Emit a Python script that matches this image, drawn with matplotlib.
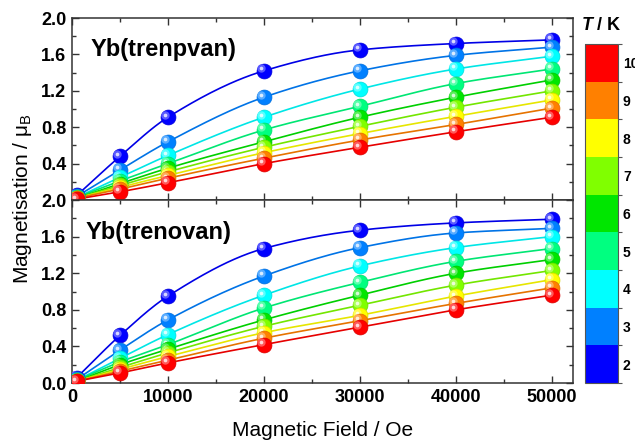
import numpy as np
import matplotlib
matplotlib.use("Agg")
import matplotlib.pyplot as plt
import matplotlib.transforms as mtransforms
from matplotlib.colors import ListedColormap, BoundaryNorm, to_rgb
from matplotlib.cm import ScalarMappable
from matplotlib.ticker import MultipleLocator, FixedLocator

plt.rcParams['font.family'] = ['Liberation Sans', 'DejaVu Sans']
plt.rcParams['mathtext.fontset'] = 'custom'
plt.rcParams['mathtext.rm'] = 'Liberation Sans'
plt.rcParams['mathtext.it'] = 'Liberation Sans:italic'
plt.rcParams['mathtext.bf'] = 'Liberation Sans:bold'
plt.rcParams['mathtext.bfit'] = 'Liberation Sans:italic:bold'

# magnetic field (Oe)
field = [500, 5000, 10000, 20000, 30000, 40000, 50000]
temps = [2, 3, 4, 5, 6, 7, 8, 9, 10]
temp_colors = ['#0000ff', '#0080ff', '#00ffff', '#00ff80', '#00e600',
               '#80ff00', '#ffff00', '#ff8000', '#ff0000']

# magnetisation (muB), one row per temperature
m_trenpvan = [
    [0.05, 0.48, 0.91, 1.42, 1.65, 1.72, 1.76],
    [0.04, 0.33, 0.64, 1.13, 1.42, 1.59, 1.68],
    [0.03, 0.25, 0.49, 0.91, 1.22, 1.44, 1.58],
    [0.03, 0.21, 0.40, 0.77, 1.03, 1.28, 1.44],
    [0.02, 0.18, 0.35, 0.64, 0.91, 1.13, 1.32],
    [0.02, 0.16, 0.31, 0.58, 0.81, 1.02, 1.20],
    [0.02, 0.14, 0.27, 0.52, 0.73, 0.92, 1.10],
    [0.02, 0.12, 0.24, 0.46, 0.66, 0.83, 1.01],
    [0.01, 0.09, 0.19, 0.40, 0.58, 0.75, 0.91],
]
m_trenovan = [
    [0.06, 0.52, 0.95, 1.47, 1.67, 1.75, 1.79],
    [0.04, 0.36, 0.69, 1.17, 1.48, 1.64, 1.69],
    [0.03, 0.27, 0.53, 0.96, 1.28, 1.48, 1.60],
    [0.03, 0.23, 0.42, 0.82, 1.10, 1.33, 1.47],
    [0.02, 0.20, 0.37, 0.69, 0.96, 1.20, 1.35],
    [0.02, 0.17, 0.33, 0.62, 0.85, 1.07, 1.23],
    [0.02, 0.15, 0.29, 0.55, 0.74, 0.95, 1.13],
    [0.02, 0.13, 0.25, 0.49, 0.68, 0.87, 1.04],
    [0.02, 0.11, 0.22, 0.42, 0.61, 0.80, 0.96],
]


def smooth(x, y, n=200):
    # monotone cubic hermite through the points, just for drawing the line
    x = np.asarray(x, float)
    y = np.asarray(y, float)
    h = np.diff(x)
    d = np.diff(y) / h
    m = np.zeros_like(y)
    m[0], m[-1] = d[0], d[-1]
    for i in range(1, len(x) - 1):
        if d[i - 1] * d[i] > 0:
            w1 = 2 * h[i] + h[i - 1]
            w2 = h[i] + 2 * h[i - 1]
            m[i] = (w1 + w2) / (w1 / d[i - 1] + w2 / d[i])
    xs = np.linspace(x[0], x[-1], n)
    k = np.clip(np.searchsorted(x, xs) - 1, 0, len(x) - 2)
    t = (xs - x[k]) / h[k]
    h00 = 2 * t**3 - 3 * t**2 + 1
    h10 = t**3 - 2 * t**2 + t
    h01 = -2 * t**3 + 3 * t**2
    h11 = t**3 - t**2
    ys = h00 * y[k] + h10 * h[k] * m[k] + h01 * y[k + 1] + h11 * h[k] * m[k + 1]
    return xs, ys


def lighter(c, f):
    r = np.array(to_rgb(c))
    return tuple(r + (1 - r) * f)


def darker(c, f):
    return tuple(np.array(to_rgb(c)) * (1 - f))


fig = plt.figure(figsize=(6.35, 4.43), dpi=100)
ax_top = fig.add_axes([0.1134, 0.5485, 0.789, 0.4108])
ax_bot = fig.add_axes([0.1134, 0.1354, 0.789, 0.4131])


def draw_panel(ax, data, title, ty):
    hl = mtransforms.offset_copy(ax.transData, fig=fig, x=-1.8, y=1.8, units='points')
    for i, c in enumerate(temp_colors):
        xs, ys = smooth(field, data[i])
        ax.plot(xs, ys, color=darker(c, 0.1), lw=1.2, zorder=2)
    for i, c in enumerate(temp_colors):
        ax.scatter(field, data[i], s=115, color=c, edgecolors=darker(c, 0.15),
                   linewidths=0.5, zorder=3 + i * 0.01)
        ax.scatter(field, data[i], s=36, color=lighter(c, 0.35), lw=0,
                   transform=hl, zorder=3 + i * 0.01 + 0.003)
        ax.scatter(field, data[i], s=7, color=lighter(c, 0.85), lw=0,
                   transform=hl, zorder=3 + i * 0.01 + 0.006)
    ax.text(ty[0], ty[1], title, transform=ax.transAxes, fontsize=17,
            fontweight='bold', va='baseline', ha='left')
    ax.set_xlim(0, 52200)
    ax.set_ylim(0, 2.0)
    ax.xaxis.set_major_locator(MultipleLocator(10000))
    ax.xaxis.set_minor_locator(MultipleLocator(5000))
    ax.yaxis.set_minor_locator(MultipleLocator(0.2))
    ax.tick_params(which='both', direction='in', top=True, right=True,
                   width=1.0, color='#333333')
    ax.tick_params(which='major', length=5, labelsize=13, pad=4)
    ax.tick_params(which='minor', length=3)
    for sp in ax.spines.values():
        sp.set_linewidth(1.1)
        sp.set_color('#333333')


draw_panel(ax_top, m_trenpvan, 'Yb(trenpvan)', (0.037, 0.79))
draw_panel(ax_bot, m_trenovan, 'Yb(trenovan)', (0.028, 0.787))

ax_top.set_yticks([0.4, 0.8, 1.2, 1.6, 2.0])
ax_top.set_yticklabels(['0.4', '0.8', '1.2', '1.6', '2.0'], fontweight='bold')
ax_top.tick_params(labelbottom=False)
ax_bot.set_yticks([0.0, 0.4, 0.8, 1.2, 1.6, 2.0])
ax_bot.set_yticklabels(['0.0', '0.4', '0.8', '1.2', '1.6', '2.0'], fontweight='bold')
ax_bot.set_xticks([0, 10000, 20000, 30000, 40000, 50000])
ax_bot.set_xticklabels(['0', '10000', '20000', '30000', '40000', '50000'], fontweight='bold')

ax_bot.set_xlabel('Magnetic Field / Oe', fontsize=15, labelpad=11)
fig.text(0.035, 0.551, 'Magnetisation / μ$_\\mathrm{B}$', rotation=90,
         fontsize=15, ha='center', va='center')

# temperature colour bar
cax = fig.add_axes([0.9213, 0.1354, 0.052, 0.765])
bounds = np.arange(1.5, 11, 1.0)
cmap = ListedColormap(temp_colors)
norm = BoundaryNorm(bounds, cmap.N)
cb = fig.colorbar(ScalarMappable(norm=norm, cmap=cmap), cax=cax, ticks=temps)
cb.outline.set_linewidth(0.8)
cb.outline.set_edgecolor('#555555')
cax.set_yticklabels([str(t) for t in temps], fontweight='bold')
cax.tick_params(which='major', length=0, labelsize=10, pad=3.5)
cax.yaxis.set_minor_locator(FixedLocator(bounds))
cax.tick_params(which='minor', length=3, width=0.8, color='#555555')
cax.text(0.5, 1.03, '$\\mathbfit{T}$ / K', transform=cax.transAxes,
         fontsize=13, fontweight='bold', ha='center', va='bottom')

fig.savefig('out.png', dpi=100)
